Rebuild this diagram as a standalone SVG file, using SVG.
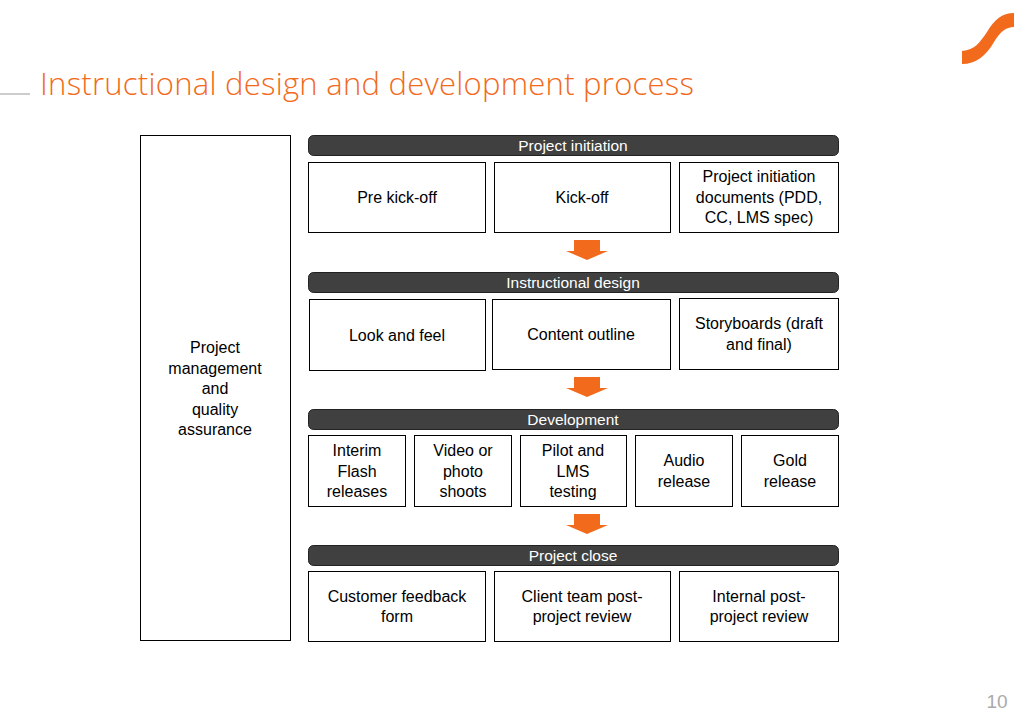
<svg xmlns="http://www.w3.org/2000/svg" width="1030" height="728" viewBox="0 0 1030 728">
<style>
text{font-family:"Liberation Sans",Arial,sans-serif;font-size:16px;fill:#000;text-anchor:middle}
.box{fill:#fff;stroke:#000;stroke-width:1}
.bar{fill:#404040;stroke:#222;stroke-width:1}
.bt{fill:#fff;font-size:15.5px}
.arr{fill:#f26a1b}
</style>
<defs><path id="ar" d="M-13,0 H13 V11 H21 L0,20 L-21,11 H-13 Z"/></defs>
<rect width="1030" height="728" fill="#fff"/>
<line x1="0" y1="94" x2="30" y2="94" stroke="#999" stroke-width="1"/>
<text x="40" y="95" textLength="654" style="font-size:31px;fill:#f26a1b;text-anchor:start;font-family:'Open Sans','Liberation Sans',sans-serif;font-weight:300">Instructional design and development process</text>
<path class="arr" d="M962,51 C975,50 980,42 987,32 C994,20 1002,13 1014,13 L1014,27 C1006,27 1000,32 994,42 C986,56 976,64 962,64 Z"/>
<text x="997" y="708" style="font-size:19px;fill:#aaa">10</text>
<g id="pmqa"><rect class="box" x="140.5" y="135.5" width="150" height="505"/>
<text x="215" y="353">Project</text><text x="215" y="374">management</text><text x="215" y="394">and</text><text x="215" y="415">quality</text><text x="215" y="435">assurance</text></g>
<g id="bar1"><rect class="bar" x="308.5" y="135.5" width="530" height="20" rx="5"/><text class="bt" x="573" y="151">Project initiation</text></g>
<g id="n1"><rect class="box" x="308.5" y="162.5" width="177" height="70"/><text x="397" y="203">Pre kick-off</text></g>
<g id="n2"><rect class="box" x="494.5" y="162.5" width="176" height="70"/><text x="582" y="203">Kick-off</text></g>
<g id="n3"><rect class="box" x="679.5" y="162.5" width="159" height="70"/><text x="759" y="182">Project initiation</text><text x="759" y="203">documents (PDD,</text><text x="759" y="223">CC, LMS spec)</text></g>
<g id="bar2"><rect class="bar" x="308.5" y="272.5" width="530" height="20" rx="5"/><text class="bt" x="573" y="288">Instructional design</text></g>
<g id="n4"><rect class="box" x="309.5" y="299.5" width="176" height="71"/><text x="397" y="341">Look and feel</text></g>
<g id="n5"><rect class="box" x="492.5" y="299.5" width="178" height="70"/><text x="581" y="340">Content outline</text></g>
<g id="n6"><rect class="box" x="679.5" y="298.5" width="159" height="71"/><text x="759" y="329">Storyboards (draft</text><text x="759" y="350">and final)</text></g>
<g id="bar3"><rect class="bar" x="308.5" y="409.5" width="530" height="20" rx="5"/><text class="bt" x="573" y="425">Development</text></g>
<g id="n7"><rect class="box" x="308.5" y="435.5" width="97" height="71"/><text x="357" y="456">Interim</text><text x="357" y="477">Flash</text><text x="357" y="497">releases</text></g>
<g id="n8"><rect class="box" x="414.5" y="435.5" width="97" height="71"/><text x="463" y="456">Video or</text><text x="463" y="477">photo</text><text x="463" y="497">shoots</text></g>
<g id="n9"><rect class="box" x="520.5" y="435.5" width="106" height="71"/><text x="573" y="456">Pilot and</text><text x="573" y="477">LMS</text><text x="573" y="497">testing</text></g>
<g id="n10"><rect class="box" x="635.5" y="435.5" width="97" height="71"/><text x="684" y="466">Audio</text><text x="684" y="487">release</text></g>
<g id="n11"><rect class="box" x="741.5" y="435.5" width="97" height="71"/><text x="790" y="466">Gold</text><text x="790" y="487">release</text></g>
<g id="bar4"><rect class="bar" x="308.5" y="545.5" width="530" height="20" rx="5"/><text class="bt" x="573" y="561">Project close</text></g>
<g id="n12"><rect class="box" x="308.5" y="571.5" width="177" height="70"/><text x="397" y="602">Customer feedback</text><text x="397" y="622">form</text></g>
<g id="n13"><rect class="box" x="494.5" y="571.5" width="176" height="70"/><text x="582" y="602">Client team post-</text><text x="582" y="622">project review</text></g>
<g id="n14"><rect class="box" x="679.5" y="571.5" width="159" height="70"/><text x="759" y="602">Internal post-</text><text x="759" y="622">project review</text></g>
<g id="connectors">
<use href="#ar" class="arr" x="587" y="240"/>
<use href="#ar" class="arr" x="587" y="377"/>
<use href="#ar" class="arr" x="587" y="514"/>
</g>
</svg>
